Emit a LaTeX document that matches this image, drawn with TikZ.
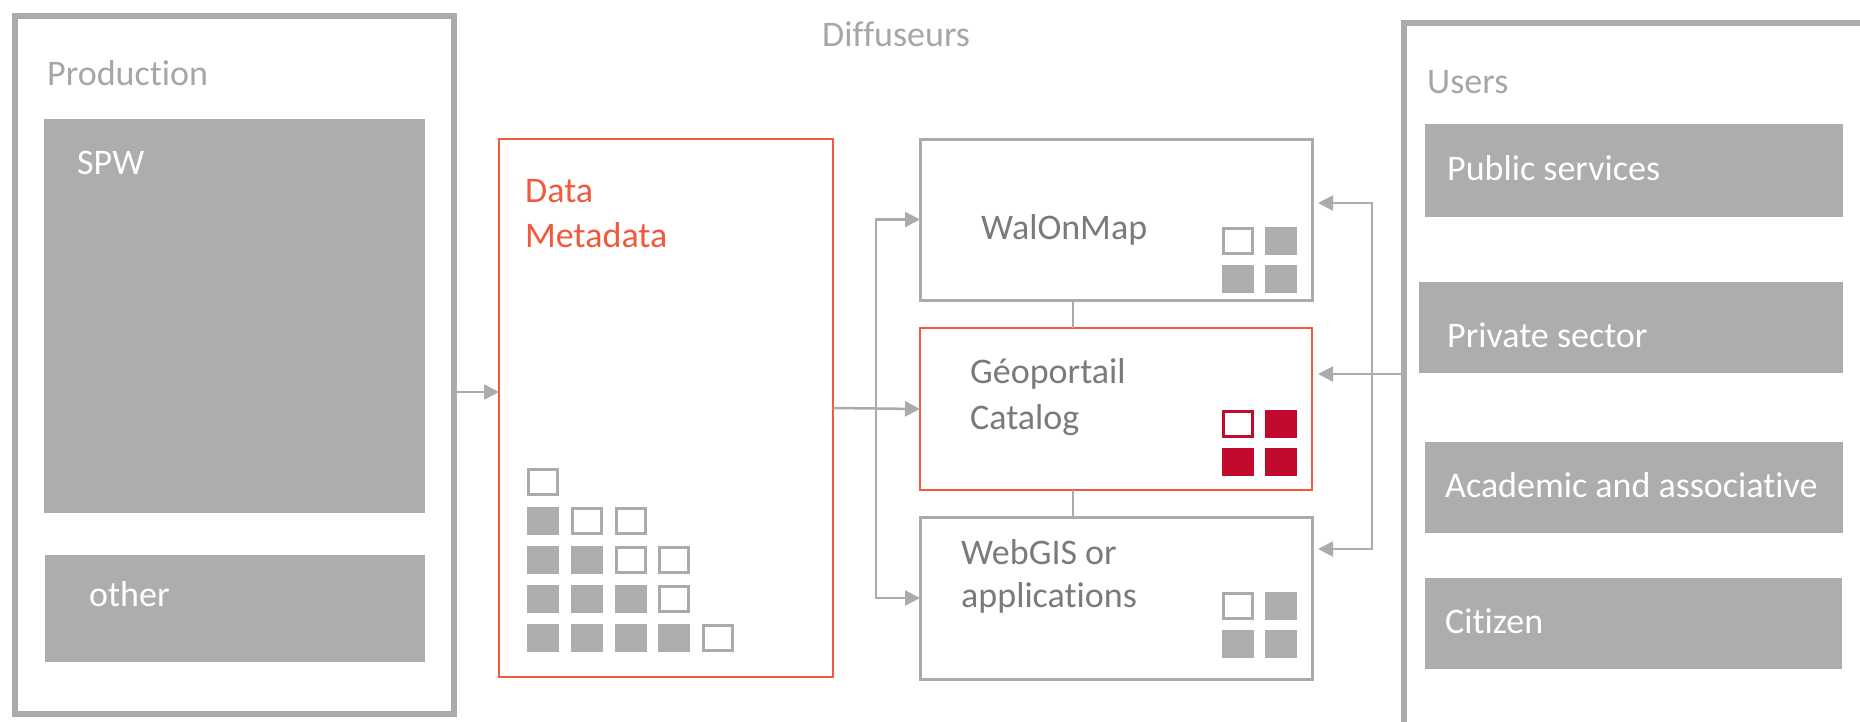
\documentclass[tikz,border=0pt]{standalone}
\usepackage{fontspec}
\setmainfont{Carlito}[Ligatures=NoCommon]
\usepackage{xcolor}
\usepackage{tikz}
\usetikzlibrary{arrows.meta,positioning}

\definecolor{framegray}{HTML}{ABABAB}
\definecolor{boxgray}{HTML}{ADADAD}
\definecolor{headgray}{HTML}{A6A6A6}
\definecolor{textgray}{HTML}{7A7A7A}
\definecolor{orangered}{HTML}{EF5A3C}
\definecolor{crimson}{HTML}{C20A2F}

\begin{document}
\begin{tikzpicture}[x=1pt, y=-1pt, font=\fontsize{36}{43}\selectfont]
    \useasboundingbox (0,0) rectangle (1860,721);
    \clip (0,0) rectangle (1860,721);

    % Define styles
    \tikzstyle{outerframe} = [rectangle, draw=framegray, line width=6pt, anchor=north west, inner sep=0pt, outer sep=0pt]
    \tikzstyle{graybox} = [rectangle, fill=boxgray, anchor=north west, inner sep=0pt, outer sep=0pt]
    \tikzstyle{service} = [rectangle, draw=framegray, line width=3pt, anchor=north west, inner sep=0pt, outer sep=0pt, minimum width=392pt]
    \tikzstyle{mainservice} = [service, draw=orangered, line width=2.5pt]
    \tikzstyle{headtext} = [anchor=base west, inner sep=0pt, text=headgray]
    \tikzstyle{boxtext} = [anchor=base west, inner sep=0pt, text=white]
    \tikzstyle{servicetext} = [anchor=base west, inner sep=0pt, text=textgray]
    \tikzstyle{full} = [rectangle, fill=boxgray, minimum width=32pt, minimum height=28pt, inner sep=0pt, outer sep=0pt]
    \tikzstyle{hollow} = [rectangle, draw=framegray, fill=white, line width=3pt, minimum width=29pt, minimum height=25pt, inner sep=0pt, outer sep=0pt]
    \tikzstyle{fullred} = [full, fill=crimson]
    \tikzstyle{hollowred} = [hollow, draw=crimson]
    \tikzstyle{flow} = [draw=framegray, line width=2.5pt, -{Triangle[length=15pt,width=15pt]}]
    \tikzstyle{link} = [draw=framegray, line width=2pt]

    % Production
    \node[outerframe, minimum width=439pt, minimum height=698pt] (prod) at (15,16) {};
    \node[headtext] (prodlbl) at (47,85) {Production};
    \node[graybox, minimum width=381pt, minimum height=394pt] (spw) at (44,119) {};
    \node[boxtext] (spwlbl) at (77,174) {SPW};
    \node[graybox, minimum width=380pt, minimum height=107pt] (other) at (45,555) {};
    \node[boxtext] (otherlbl) at (89,606) {other};

    % Data
    \node[rectangle, draw=orangered, line width=2.5pt, anchor=north west, inner sep=0pt, outer sep=0pt, minimum width=334pt, minimum height=538pt] (data) at (499,139) {};
    \node[anchor=base west, inner sep=0pt, text=orangered] (datalbl) at (525,202) {Data};
    \node[anchor=base west, inner sep=0pt, text=orangered] (metalbl) at (525,247) {Metadata};

    \node[hollow] (p11) at (543,482) {};
    \node[full] (p21) at (543,521) {};
    \node[hollow] (p22) at (587,521) {};
    \node[hollow] (p23) at (631,521) {};
    \node[full] (p31) at (543,560) {};
    \node[full] (p32) at (587,560) {};
    \node[hollow] (p33) at (631,560) {};
    \node[hollow] (p34) at (674,560) {};
    \node[full] (p41) at (543,599) {};
    \node[full] (p42) at (587,599) {};
    \node[full] (p43) at (631,599) {};
    \node[hollow] (p44) at (674,599) {};
    \node[full] (p51) at (543,638) {};
    \node[full] (p52) at (587,638) {};
    \node[full] (p53) at (631,638) {};
    \node[full] (p54) at (674,638) {};
    \node[hollow] (p55) at (718,638) {};

    % Diffuseurs
    \node[headtext] (difflbl) at (822,46) {Diffuseurs};
    \node[service, minimum height=161pt] (wal) at (920,139) {};
    \node[servicetext] (wallbl) at (981,239) {WalOnMap};
    \node[mainservice, minimum height=162pt] (geo) at (920,328) {};
    \node[servicetext] (geolbl) at (970,383) {Géoportail};
    \node[servicetext] (catlbl) at (970,429) {Catalog};
    \node[service, minimum height=162pt] (web) at (920,517) {};
    \node[servicetext] (weblbl) at (961,564) {WebGIS or};
    \node[servicetext] (applbl) at (961,607) {applications};

    \node[hollow] (w1) at (1238,241) {};
    \node[full] (w2) at (1281,241) {};
    \node[full] (w3) at (1238,279) {};
    \node[full] (w4) at (1281,279) {};
    \node[hollowred] (g1) at (1238,424) {};
    \node[fullred] (g2) at (1281,424) {};
    \node[fullred] (g3) at (1238,462) {};
    \node[fullred] (g4) at (1281,462) {};
    \node[hollow] (b1) at (1238,606) {};
    \node[full] (b2) at (1281,606) {};
    \node[full] (b3) at (1238,644) {};
    \node[full] (b4) at (1281,644) {};

    % Users
    \node[outerframe, minimum width=600pt, minimum height=800pt] (users) at (1404,23) {};
    \node[headtext] (userslbl) at (1427,93) {Users};
    \node[graybox, minimum width=418pt, minimum height=93pt] (pub) at (1425,124) {};
    \node[boxtext] (publbl) at (1447,180) {Public services};
    \node[graybox, minimum width=424pt, minimum height=91pt] (priv) at (1419,282) {};
    \node[boxtext] (privlbl) at (1447,347) {Private sector};
    \node[graybox, minimum width=418pt, minimum height=91pt] (acad) at (1425,442) {};
    \node[boxtext] (acadlbl) at (1445,497) {Academic and associative};
    \node[graybox, minimum width=417pt, minimum height=91pt] (cit) at (1425,578) {};
    \node[boxtext] (citlbl) at (1445,633) {Citizen};

    % Connections
    \coordinate (prodout) at ([yshift=-27pt]prod.east);
    \draw[flow] (prodout) -- (prodout -| data.west);
    \draw[flow] (data.east) -- (geo.west);
    \coordinate (split) at ([xshift=43pt]data.east);
    \draw[flow] (split) |- (wal.west);
    \draw[flow] (split) |- (web.west);
    \draw[link] ([xshift=-43pt]wal.south) -- ([xshift=-43pt]geo.north);
    \draw[link] ([xshift=-43pt]geo.south) -- ([xshift=-43pt]web.north);
    \coordinate (waltip) at ([xshift=6pt,yshift=16.5pt]wal.east);
    \coordinate (webtip) at ([xshift=6pt,yshift=49pt]web.east);
    \coordinate (geotip) at ([xshift=6pt,yshift=35pt]geo.east);
    \draw[flow, link, {Triangle[length=15pt,width=15pt]}-{Triangle[length=15pt,width=15pt]}] (waltip) -- ++(54,0) |- (webtip);
    \draw[flow] (geotip -| users.west) -- (geotip);
\end{tikzpicture}
\end{document}
